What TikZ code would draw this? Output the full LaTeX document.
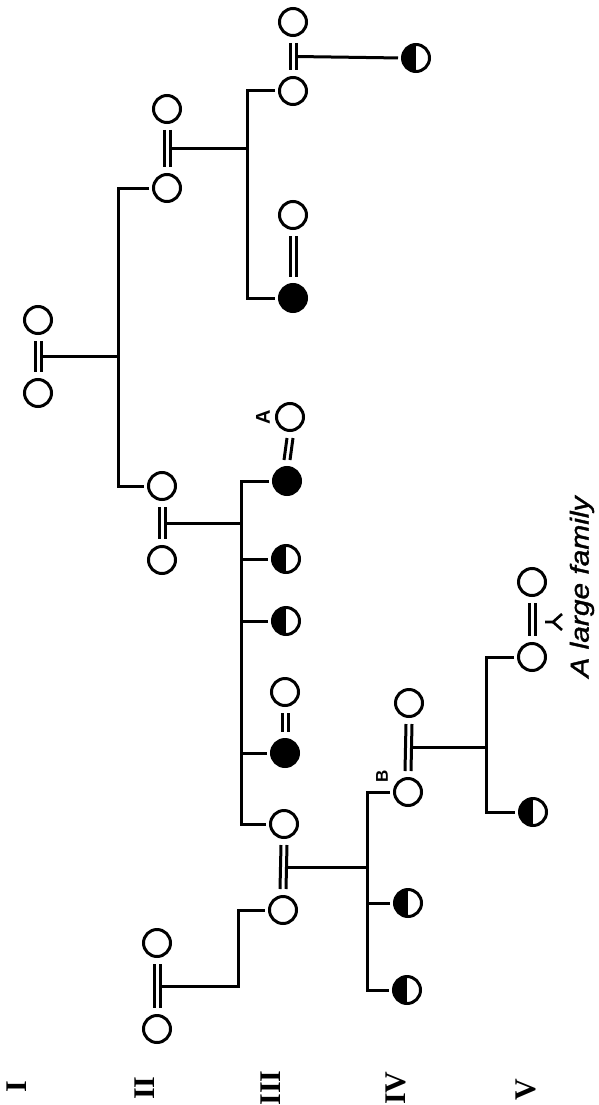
\documentclass[tikz,border=0pt]{standalone}
\usepackage{fontspec}
\setmainfont{Liberation Serif}
\newfontfamily\labsans{Liberation Sans}
\usetikzlibrary{calc}
\newcommand\spouses[2]{%
  \draw[ln] ([xshift=-3pt,yshift=-6pt]#1.south) -- ([xshift=-3pt,yshift=6pt]#2.north);
  \draw[ln] ([xshift=3pt,yshift=-6pt]#1.south) -- ([xshift=3pt,yshift=6pt]#2.north);}
\newcommand\descent[3]{% name of coordinate, upper, lower
  \coordinate (#1) at ($(#2.south)!0.5!(#3.north)+(3pt,0)$);}
\begin{document}
\begin{tikzpicture}[x=1pt,y=-1pt,
  ln/.style={line width=3pt},
  person/.style={circle,draw,line width=3pt,minimum size=27pt,inner sep=0pt},
  aff/.style={person,fill=black},
  half/.style={person,path picture={\fill[black] (path picture bounding box.south west) rectangle (path picture bounding box.north);}},
  kid/.style={ln,shorten >=3pt},
  kids/.style={ln,shorten <=3pt,shorten >=3pt},
  gen/.style={rotate=90,font=\bfseries\fontsize{30}{30}\selectfont,inner sep=0pt},
  tag/.style={rotate=90,font=\labsans\bfseries\fontsize{20}{20}\selectfont,inner sep=0pt},
]
\useasboundingbox[fill=white] (0,0) rectangle (598,1105);

% ---------- Generation I ----------
\node[person] (I1) at (38,320) {};
\node[person] (I2) at (38,393) {};
\spouses{I1}{I2}
\descent{tI}{I1}{I2}
\coordinate (vI) at (118,0);

% ---------- Generation II ----------
\node[person] (a1) at (167,109) {};
\node[person] (a2) at (167,188) {};
\spouses{a1}{a2}
\descent{ta}{a1}{a2}
\coordinate (va) at (247,0);

\node[person] (b1) at (162,486) {};
\node[person] (b2) at (162,560) {};
\spouses{b1}{b2}
\descent{tb}{b1}{b2}
\coordinate (vb) at (241,0);

\node[person] (c1) at (157,943) {};
\node[person] (c2) at (157,1029) {};
\spouses{c1}{c2}
\descent{tc}{c1}{c2}
\coordinate (vc) at (238,0);

\draw[ln] (tI) -- (tI -| vI);
\draw[kids] (a2.west) -- (a2 -| vI) -- (b1 -| vI) -- (b1.west);

% ---------- Generation III ----------
\node[person] (d0) at (293,22) {};
\node[person] (d1) at (293,91) {};
\spouses{d0}{d1}
\descent{td}{d0}{d1}
\node[person] (e0) at (293,215) {};
\node[aff] (e1) at (293,298) {};
\spouses{e0}{e1}
\draw[ln] (ta) -- (ta -| va);
\draw[kids] (d1.west) -- (d1 -| va) -- (e1 -| va) -- (e1.west);

\node[person] (Ah) at (290,417) {};
\node[aff] (f1) at (287,481) {};
\spouses{Ah}{f1}
\node[tag] (Alab) at (263,417) {A};
\node[half] (f2) at (286,559) {};
\node[half] (f3) at (286,621) {};
\node[person] (f4s) at (285,692) {};
\node[aff] (f4) at (285,753) {};
\spouses{f4s}{f4}
\node[person] (f5) at (284,824) {};
\draw[ln] (tb) -- (tb -| vb);
\draw[kids] (f1.west) -- (f1 -| vb) -- (f5 -| vb) -- (f5.west);
\draw[kid] (f2 -| vb) -- (f2.west);
\draw[kid] (f3 -| vb) -- (f3.west);
\draw[kid] (f4 -| vb) -- (f4.west);

\node[person] (g) at (283,910) {};
\draw[kid] (tc) -- (tc -| vc) -- (g -| vc) -- (g.west);
\spouses{f5}{g}
\descent{tf}{f5}{g}
\coordinate (vk) at (367,0);

% ---------- Generation IV ----------
\node[half] (h1) at (416,58) {};
\draw[kid] (td) -- (h1.west);

\node[person] (Bs) at (409,703) {};
\node[person] (B) at (408,792) {};
\node[tag,font=\labsans\bfseries\fontsize{17}{17}\selectfont] (Blab) at (382,776) {B};
\node[half] (k2) at (408,903) {};
\node[half] (k3) at (407,990) {};
\draw[ln] (tf) -- (tf -| vk);
\draw[kids] (B.west) -- (B -| vk) -- (k3 -| vk) -- (k3.west);
\draw[kid] (k2 -| vk) -- (k2.west);
\spouses{Bs}{B}
\descent{tB}{Bs}{B}
\coordinate (vm) at (486,0);

% ---------- Generation V ----------
\node[person] (m0) at (532,582) {};
\node[person] (m1) at (532,657) {};
\node[half] (m2) at (533,812) {};
\spouses{m0}{m1}
\draw[ln] (tB) -- (tB -| vm);
\draw[kids] (m1.west) -- (m1 -| vm) -- (m2 -| vm) -- (m2.west);
\coordinate (fk) at (545,622);
\draw[line width=2.6pt] (fk) -- ++(8,0) coordinate (fv) -- ++(9,-8);
\draw[line width=2.6pt] (fv) -- ++(9,8);
\node[rotate=90,font=\labsans\itshape\addfontfeature{FakeBold=1.2}\fontsize{26}{26}\selectfont,inner sep=0pt] (fam) at (582,587) {\scalebox{1.15}[1]{A large family}};

% ---------- generation numerals ----------
\node[gen] (gI) at (17,1087) {I};
\node[gen] (gII) at (145,1088) {II};
\node[gen] (gIII) at (271,1088) {III};
\node[gen] (gIV) at (396,1088) {IV};
\node[gen] (gV) at (526,1090) {V};
\end{tikzpicture}
\end{document}
